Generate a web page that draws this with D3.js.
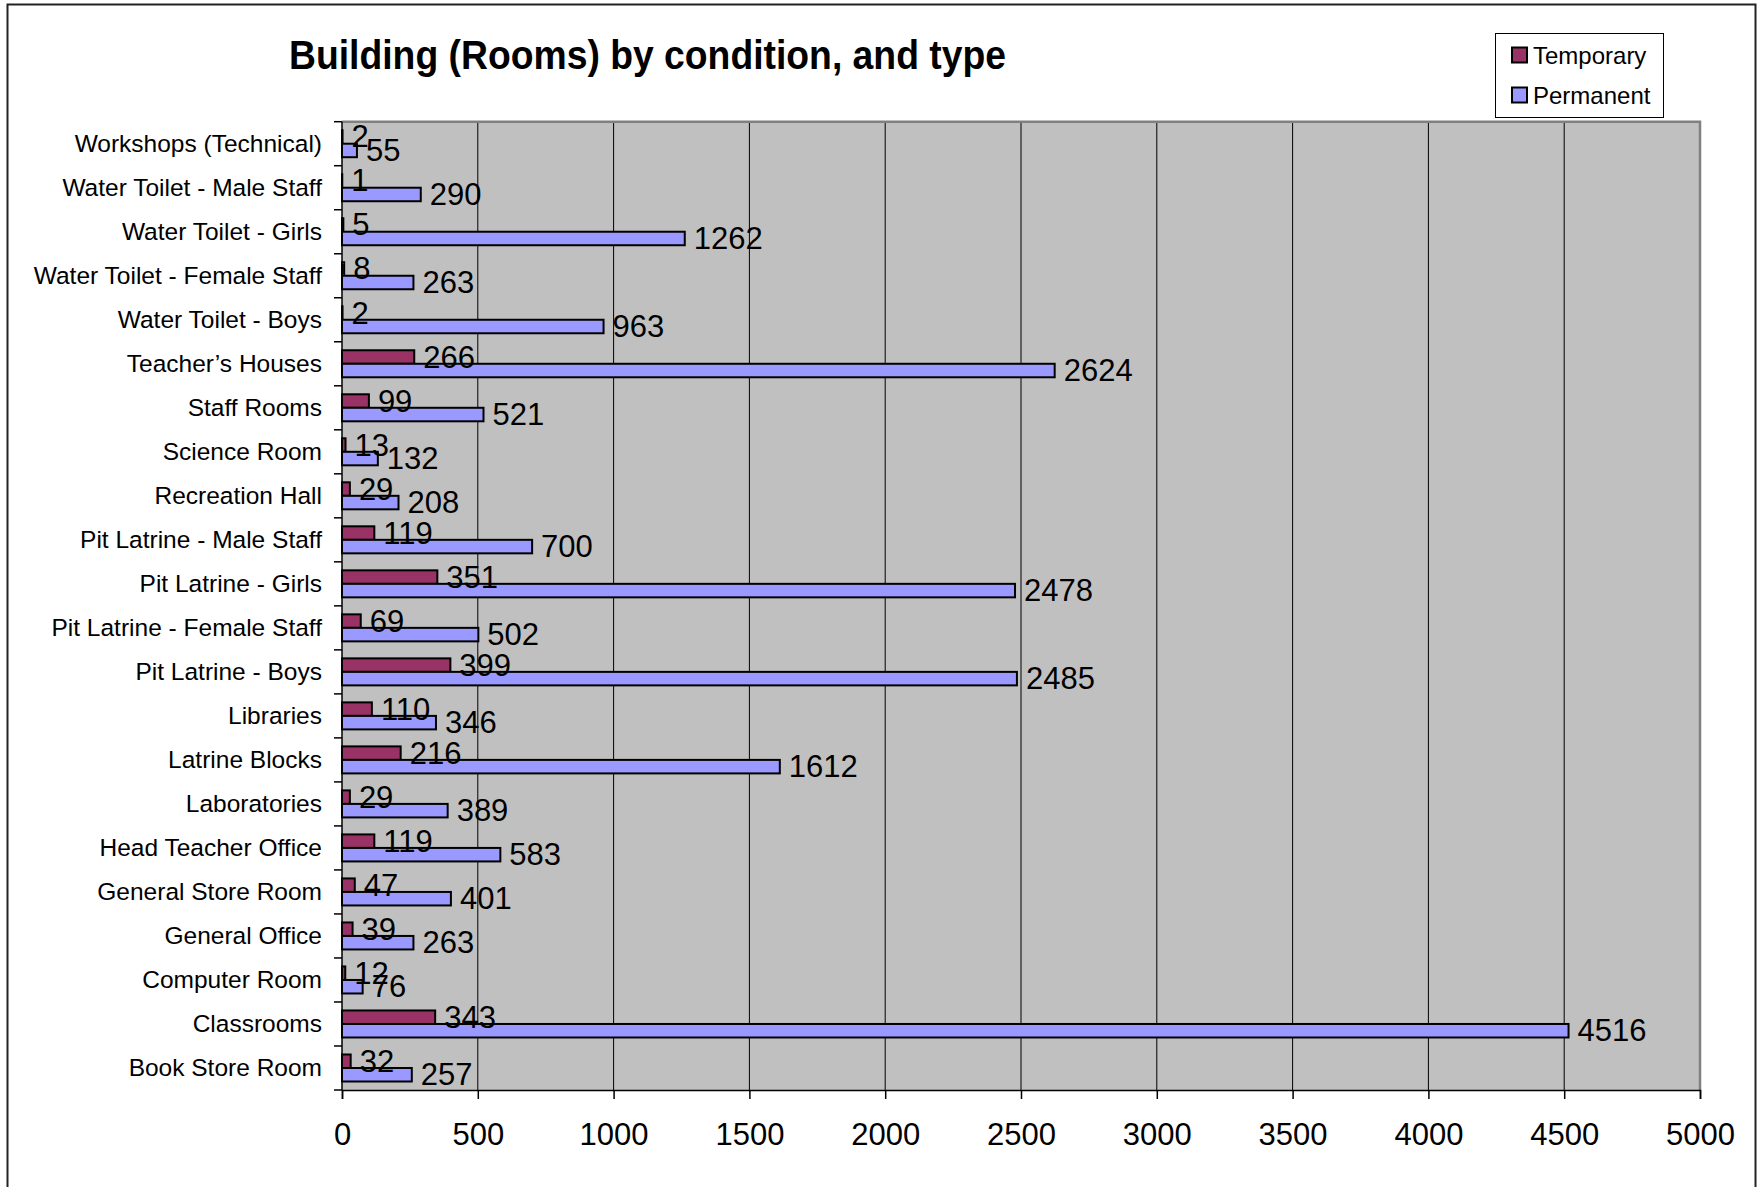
<!DOCTYPE html>
<html>
<head>
<meta charset="utf-8">
<script src="https://cdn.jsdelivr.net/npm/d3@7"></script>
<style>
  html, body { margin: 0; padding: 0; background: #fff; }
  svg { display: block; font-family: "Liberation Sans", Arial, sans-serif; }
</style>
</head>
<body>
<svg id="chart" width="1763" height="1187"></svg>
<script>
const categories = [
  "Workshops (Technical)",
  "Water Toilet - Male Staff",
  "Water Toilet - Girls",
  "Water Toilet - Female Staff",
  "Water Toilet - Boys",
  "Teacher\u2019s Houses",
  "Staff Rooms",
  "Science Room",
  "Recreation Hall",
  "Pit Latrine - Male Staff",
  "Pit Latrine - Girls",
  "Pit Latrine - Female Staff",
  "Pit Latrine - Boys",
  "Libraries",
  "Latrine Blocks",
  "Laboratories",
  "Head Teacher Office",
  "General Store Room",
  "General Office",
  "Computer Room",
  "Classrooms",
  "Book Store Room"
];
const temporary = [2, 1, 5, 8, 2, 266, 99, 13, 29, 119, 351, 69, 399, 110, 216, 29, 119, 47, 39, 12, 343, 32];
const permanent = [55, 290, 1262, 263, 963, 2624, 521, 132, 208, 700, 2478, 502, 2485, 346, 1612, 389, 583, 401, 263, 76, 4516, 257];
const xTicks = [0, 500, 1000, 1500, 2000, 2500, 3000, 3500, 4000, 4500, 5000];
const seriesNames = ["Temporary", "Permanent"];
const seriesColors = ["#993366", "#9999FF"];
const titleText = "Building (Rooms) by condition, and type";

const svg = d3.select("#chart");

// outer chart border
svg.append("rect")
  .attr("x", 7.5).attr("y", 4.5).attr("width", 1748).attr("height", 1200)
  .attr("fill", "#fff").attr("stroke", "#222").attr("stroke-width", 2);

const plot = { left: 342, right: 1700, top: 121.7, bottom: 1090 };

const x = d3.scaleLinear().domain([0, 5000]).range([plot.left, plot.right]);
const y = d3.scaleBand().domain(categories).range([plot.top, plot.bottom]).padding(0);
const inner = d3.scaleBand().domain(seriesNames).range([8.5, y.bandwidth() - 8.5]).padding(0);

// plot background
svg.append("rect")
  .attr("x", plot.left).attr("y", plot.top)
  .attr("width", plot.right - plot.left).attr("height", plot.bottom - plot.top)
  .attr("fill", "#C0C0C0");

// gridlines
svg.append("g").selectAll("line").data(xTicks.slice(1, -1)).join("line")
  .attr("x1", d => x(d)).attr("x2", d => x(d))
  .attr("y1", plot.top).attr("y2", plot.bottom)
  .attr("stroke", "#000").attr("stroke-width", 1);

// plot border top/right (gray)
svg.append("path")
  .attr("d", `M${plot.left},${plot.top}H${plot.right}V${plot.bottom}`)
  .attr("fill", "none").attr("stroke", "#808080").attr("stroke-width", 2.5);

// bars
const seriesData = [temporary, permanent];
seriesNames.forEach((name, si) => {
  const g = svg.append("g");
  g.selectAll("rect").data(categories).join("rect")
    .attr("x", x(0))
    .attr("y", c => y(c) + inner(name))
    .attr("width", (c, i) => x(seriesData[si][i]) - x(0))
    .attr("height", inner.bandwidth())
    .attr("fill", seriesColors[si])
    .attr("stroke", "#000").attr("stroke-width", 2);
});

// bar labels
seriesNames.forEach((name, si) => {
  svg.append("g").selectAll("text").data(categories).join("text")
    .attr("x", (c, i) => x(seriesData[si][i]) + 9)
    .attr("y", c => y(c) + inner(name) + inner.bandwidth() / 2 + 10.5)
    .attr("font-size", 31)
    .attr("fill", "#000")
    .text((c, i) => seriesData[si][i]);
});

// y axis
const yAxis = d3.axisLeft(y).tickSize(0).tickPadding(20);
const yg = svg.append("g").attr("transform", `translate(${plot.left},0)`).call(yAxis);
yg.select(".domain").remove();
yg.selectAll("text").attr("font-size", 24.5).attr("fill", "#000")
  .attr("font-family", "'Liberation Sans', Arial, sans-serif");
// y tick marks at band boundaries
const boundaries = categories.map(c => y(c)).concat([plot.bottom]);
svg.append("g").selectAll("line").data(boundaries).join("line")
  .attr("x1", plot.left - 8).attr("x2", plot.left)
  .attr("y1", d => d).attr("y2", d => d)
  .attr("stroke", "#000").attr("stroke-width", 1.5);
svg.append("line")
  .attr("x1", plot.left).attr("x2", plot.left)
  .attr("y1", plot.top).attr("y2", plot.bottom)
  .attr("stroke", "#000").attr("stroke-width", 1.5);

// x axis
const xAxis = d3.axisBottom(x).tickValues(xTicks).tickSize(9).tickPadding(24).tickFormat(d3.format("d"));
const xg = svg.append("g").attr("transform", `translate(0,${plot.bottom})`).call(xAxis);
xg.select(".domain").attr("stroke", "#000").attr("stroke-width", 1.5);
xg.selectAll(".tick line").attr("stroke", "#000").attr("stroke-width", 1.5);
xg.selectAll("text").attr("font-size", 31).attr("fill", "#000")
  .attr("font-family", "'Liberation Sans', Arial, sans-serif");

// title
svg.append("text")
  .attr("x", 289).attr("y", 69)
  .attr("font-size", 40).attr("font-weight", "bold")
  .attr("textLength", 717).attr("lengthAdjust", "spacingAndGlyphs")
  .text(titleText);

// legend
const lg = svg.append("g");
lg.append("rect")
  .attr("x", 1495.5).attr("y", 33.5).attr("width", 168).attr("height", 84)
  .attr("fill", "#fff").attr("stroke", "#000").attr("stroke-width", 1);
seriesNames.forEach((name, i) => {
  lg.append("rect")
    .attr("x", 1512).attr("y", 47.5 + i * 40).attr("width", 15).attr("height", 15)
    .attr("fill", seriesColors[i]).attr("stroke", "#000").attr("stroke-width", 2);
  lg.append("text")
    .attr("x", 1533).attr("y", 64 + i * 40)
    .attr("font-size", 24).attr("fill", "#000")
    .text(name);
});
</script>
</body>
</html>
